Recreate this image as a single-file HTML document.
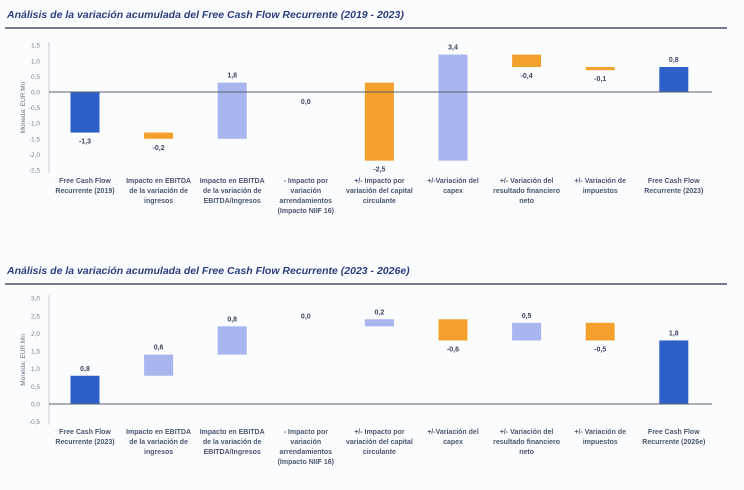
<!DOCTYPE html>
<html><head><meta charset="utf-8"><style>
body{margin:0;background:#fbfcfd;}
svg{display:block;font-family:"Liberation Sans",sans-serif;}
</style></head><body>
<svg id="s" width="744" height="490"></svg>
<script>
const categories1=["Free Cash Flow|Recurrente (2019)","Impacto en EBITDA|de la variación de|ingresos","Impacto en EBITDA|de la variación de|EBITDA/Ingresos","- Impacto por|variación|arrendamientos|(Impacto NIIF 16)","+/- Impacto por|variación del capital|circulante","+/-Variación del|capex","+/- Variación del|resultado financiero|neto","+/- Variación de|impuestos","Free Cash Flow|Recurrente (2023)"];
const values1=[-1.3,-0.2,1.8,0.0,-2.5,3.4,-0.4,-0.1,0.8];
const ticks1=[1.5,1.0,0.5,0.0,-0.5,-1.0,-1.5,-2.0,-2.5];
const categories2=["Free Cash Flow|Recurrente (2023)","Impacto en EBITDA|de la variación de|ingresos","Impacto en EBITDA|de la variación de|EBITDA/Ingresos","- Impacto por|variación|arrendamientos|(Impacto NIIF 16)","+/- Impacto por|variación del capital|circulante","+/-Variación del|capex","+/- Variación del|resultado financiero|neto","+/- Variación de|impuestos","Free Cash Flow|Recurrente (2026e)"];
const values2=[0.8,0.6,0.8,0.0,0.2,-0.6,0.5,-0.5,1.8];
const ticks2=[3.0,2.5,2.0,1.5,1.0,0.5,0.0,-0.5];

const NS="http://www.w3.org/2000/svg";
const svg=document.getElementById('s');
function mk(tag,attrs,parent,txt){const e=document.createElementNS(NS,tag);for(const k in attrs)e.setAttribute(k,attrs[k]);if(txt!==undefined)e.textContent=txt;(parent||svg).appendChild(e);return e;}
const fmt=v=>v.toFixed(1).replace('.',',');

function chart(o){
  const g=mk('g',{});
  
  
  const t=mk('text',{x:7,y:o.titleY,'font-size':10.5,'font-weight':'bold','font-style':'italic',fill:'#2b3c7e'},g,o.title);
  
  
  const tl=mk('line',{x1:5,x2:727,y1:o.titleY+10,y2:o.titleY+10,stroke:'#4a5068','stroke-width':1.5},g);
  
  
  const y=v=>o.y0-v*o.ppu;
  const x=i=>85+i*73.6;
  const ax=mk('line',{x1:49,x2:49,y1:y(o.ticks[0])-3,y2:y(o.ticks[o.ticks.length-1])+3,stroke:'#c8ccd4','stroke-width':1},g);
  
  
  o.ticks.forEach(v=>{const e=mk('text',{x:40,y:y(v)+2.5,'font-size':6.5,'text-anchor':'end',fill:'#7a8090'},g,fmt(v));
    
    });
  const at=mk('text',{x:0,y:0,'font-size':6.5,'text-anchor':'middle',fill:'#6a7080',transform:`translate(25,${(y(o.ticks[0])+y(o.ticks[o.ticks.length-1]))/2}) rotate(-90)`},g,'Moneda: EUR Mn');
  
  
  let cum=0;const n=o.values.length;
  o.values.forEach((v,i)=>{
    let a,b,col;
    if(i===0){a=0;b=v;cum=v;col='#2d5fc6';}
    else if(i===n-1){a=0;b=v;col='#2d5fc6';}
    else{a=cum;b=cum+v;cum=b;col=v>=0?'#a8b5ee':'#f4a02c';}
    const top=Math.max(a,b),bot=Math.min(a,b);
    const h=Math.max((top-bot)*o.ppu,1.2);
    if(v!==0||i===0||i===n-1){
      const r=mk('rect',{x:x(i)-14.5,y:y(top),width:29,height:h,fill:col},g);
      
      
    }
    let ly;
    if(v===0)ly=o.zeroBelow?y(0)+12:y(top)-8;
    else ly=v>=0?y(top)-5:y(bot)+11;
    const l=mk('text',{x:x(i),y:ly,'font-size':7,'font-weight':'bold','text-anchor':'middle',fill:'#3a4660'},g,fmt(v));
    
    
    o.cats[i].split('|').forEach((s,k)=>{
      const c=mk('text',{x:x(i),y:o.catY+k*10,'font-size':7,'font-weight':'bold','text-anchor':'middle',fill:'#4a5670'},g,s);
      
      
    });
  });
  const z=mk('line',{x1:49,x2:712,y1:y(0),y2:y(0),stroke:'#5a5f6a','stroke-width':1},g);
  
  
}
chart({name:'chart-2019-2023',title:'Análisis de la variación acumulada del Free Cash Flow Recurrente (2019 - 2023)',titleY:18,y0:92,ppu:31.2,ticks:ticks1,values:values1,cats:categories1,catY:183,zeroBelow:true});
chart({name:'chart-2023-2026e',title:'Análisis de la variación acumulada del Free Cash Flow Recurrente (2023 - 2026e)',titleY:274,y0:404,ppu:35.3,ticks:ticks2,values:values2,cats:categories2,catY:434,zeroBelow:false});
</script>
</body></html>
